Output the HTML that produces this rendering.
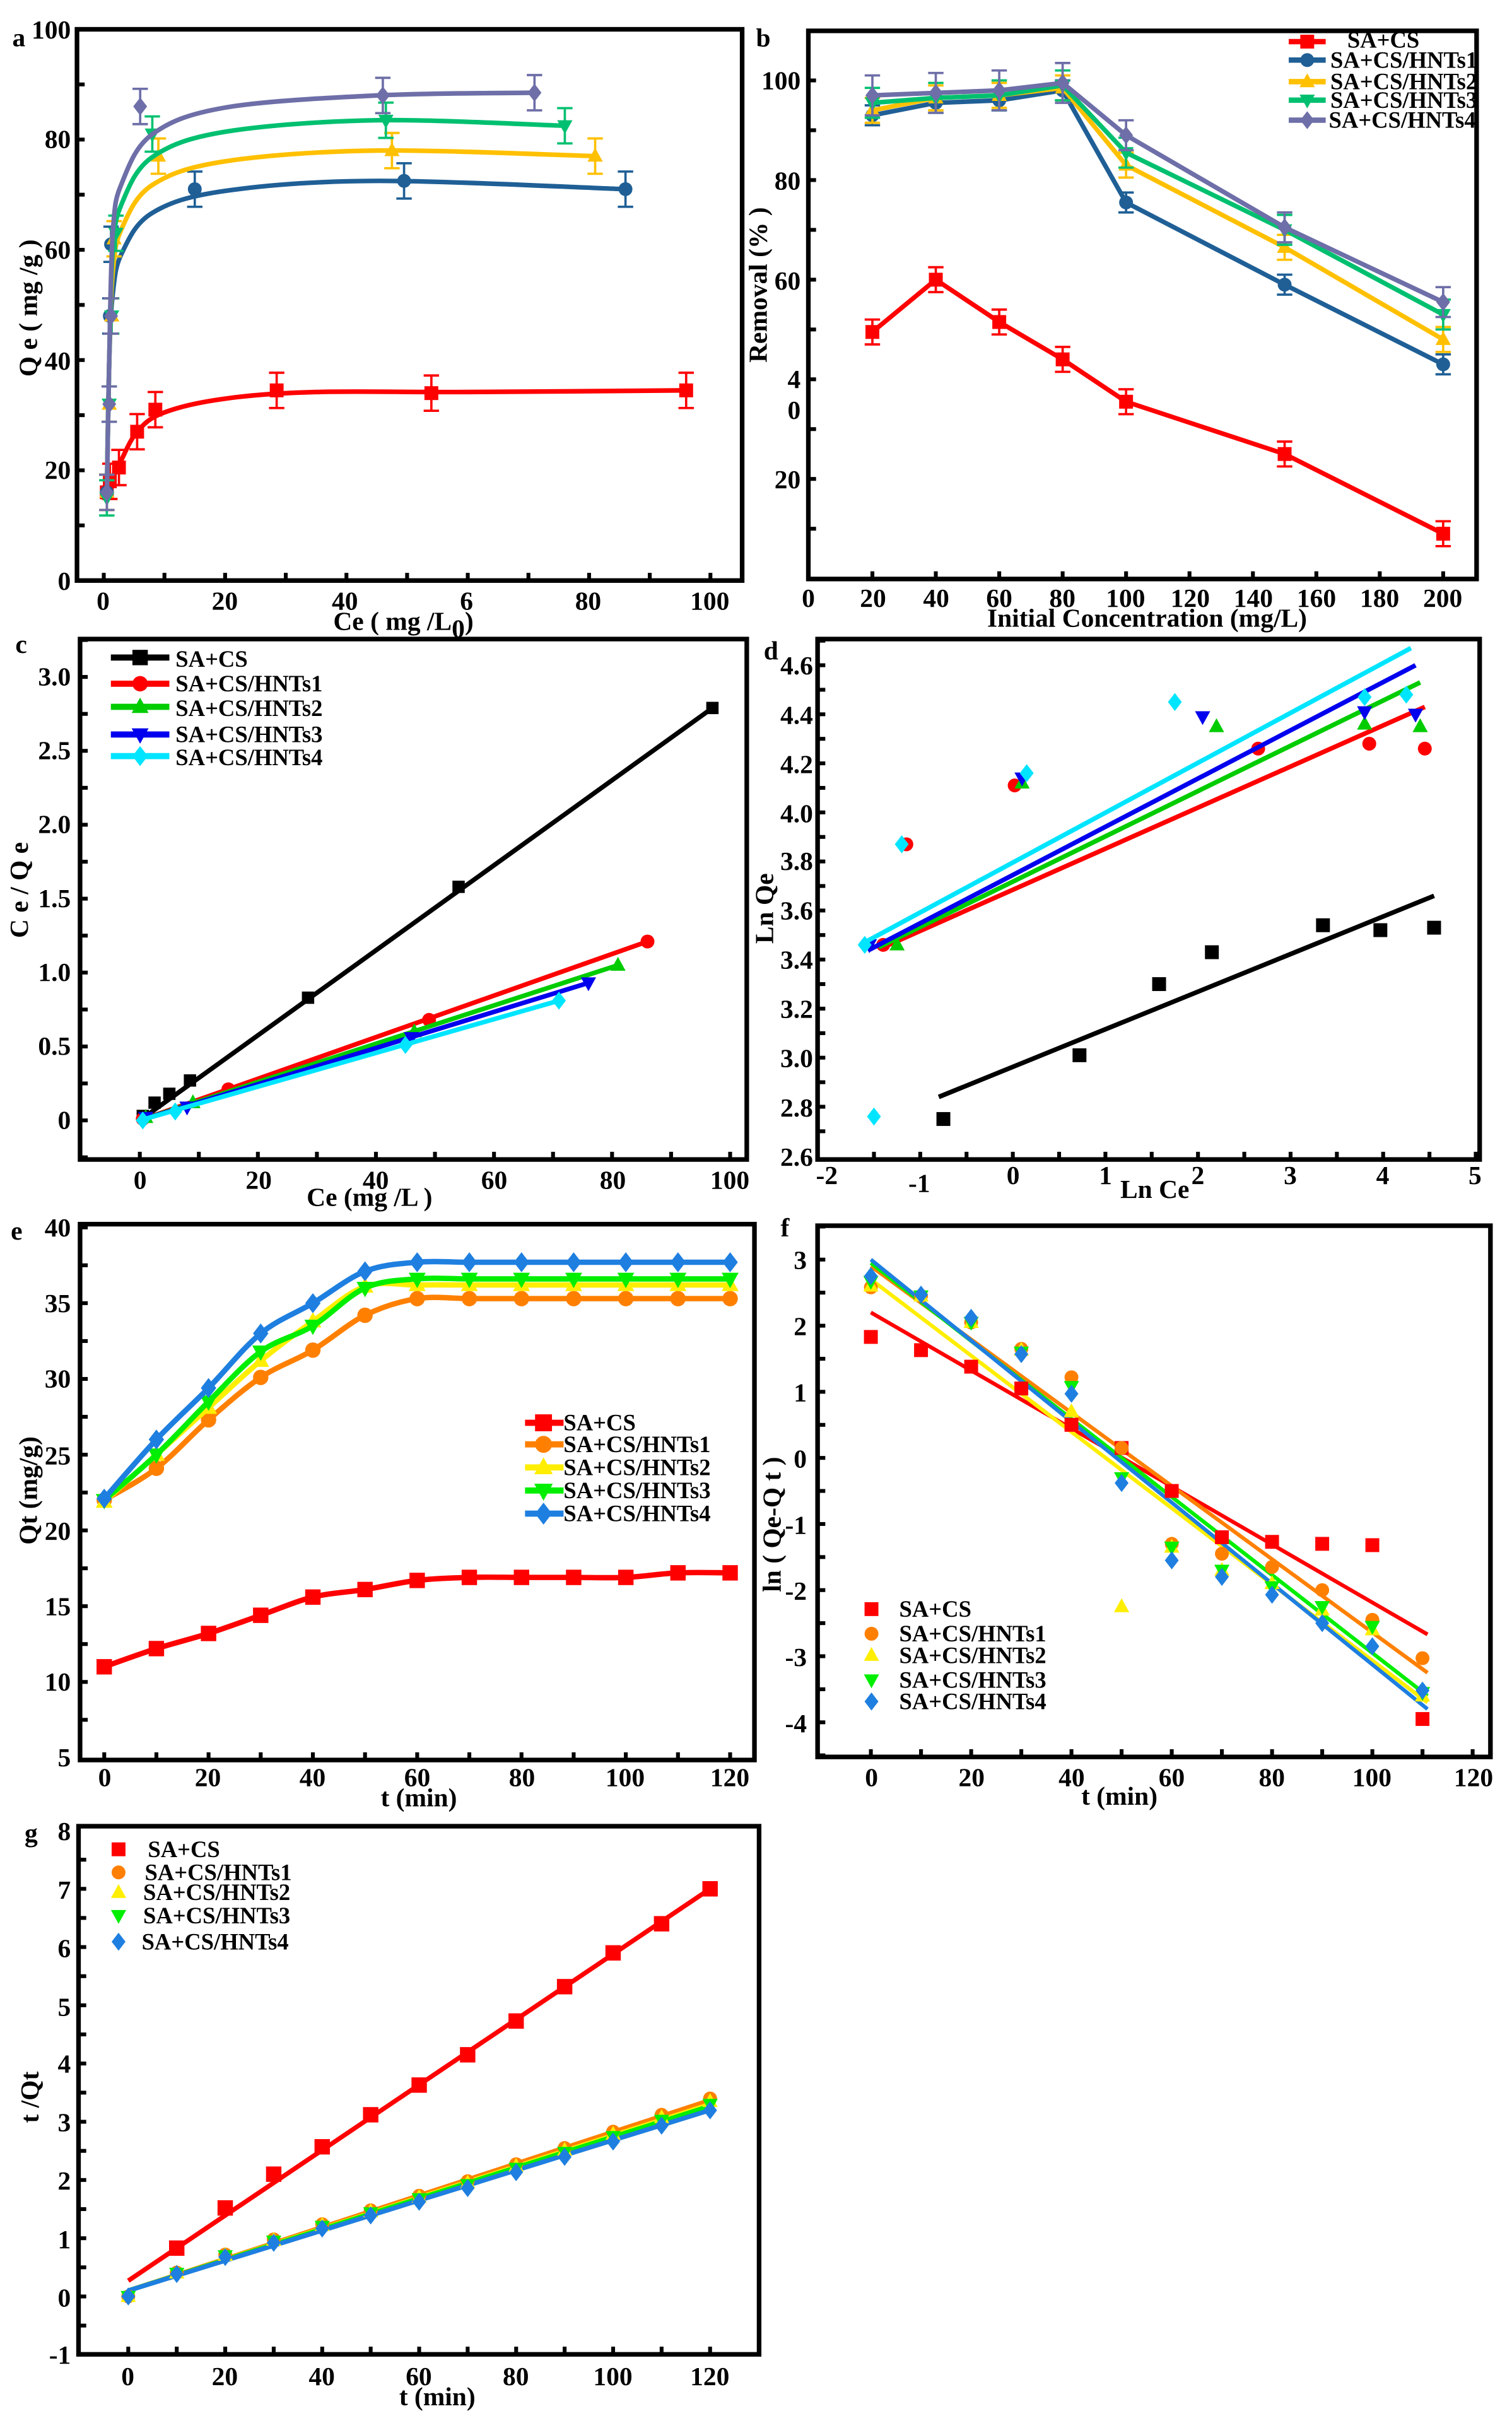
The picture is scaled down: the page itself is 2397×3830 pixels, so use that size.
<!DOCTYPE html>
<html><head><meta charset="utf-8">
<style>
html,body{margin:0;padding:0;background:#fff;}
svg{display:block;}
text{font-family:"Liberation Serif",serif;font-weight:bold;fill:#000;}
.t{font-size:17px;}
.l{font-size:15px;}
.r{text-anchor:end;}
.m{text-anchor:middle;}
</style></head>
<body>
<svg id="S" width="2397" height="3830" viewBox="0 0 982 1569" xmlns="http://www.w3.org/2000/svg">
<rect width="982" height="1569" fill="#fff"/>
<g id="G"></g>
<g fill="none" stroke="#000" stroke-width="3">
<rect x="50" y="19" width="432" height="358"/>
<rect x="525" y="20" width="434" height="356"/>
<rect x="52" y="415" width="433" height="338"/>
<rect x="531" y="415" width="430" height="338"/>
<rect x="52" y="795" width="438" height="348"/>
<rect x="531" y="796" width="437" height="345"/>
<rect x="51" y="1186" width="442" height="343"/>
</g>
<text class="t" x="8" y="30">a</text>
<text class="t r" x="46" y="25">100</text><text class="t r" x="46" y="96">80</text><text class="t r" x="46" y="168">60</text><text class="t r" x="46" y="240">40</text><text class="t r" x="46" y="311">20</text><text class="t r" x="46" y="383">0</text>
<text class="t m" x="67" y="396">0</text><text class="t m" x="146" y="396">20</text><text class="t m" x="224" y="396">40</text><text class="t m" x="303" y="396">6</text><text class="t m" x="382" y="396">80</text><text class="t m" x="461" y="396">100</text>
<text class="t m" x="262" y="409">Ce ( mg /L<tspan dy="5">0</tspan><tspan dy="-5">)</tspan></text>
<text class="t m" transform="translate(24,200) rotate(-90)">Q e ( mg /g )</text>
<text class="t" x="491" y="30">b</text>
<text class="t r" x="520" y="58">100</text><text class="t r" x="520" y="123">80</text><text class="t r" x="520" y="188">60</text><text class="t r" x="520" y="252">4</text><text class="t r" x="520" y="272">0</text><text class="t r" x="520" y="317">20</text>
<text class="t m" x="525" y="394">0</text><text class="t m" x="567" y="394">20</text><text class="t m" x="608" y="394">40</text><text class="t m" x="649" y="394">60</text><text class="t m" x="690" y="394">80</text><text class="t m" x="731" y="394">100</text><text class="t m" x="773" y="394">120</text><text class="t m" x="814" y="394">140</text><text class="t m" x="855" y="394">160</text><text class="t m" x="896" y="394">180</text><text class="t m" x="937" y="394">200</text>
<text class="t m" x="745" y="407">Initial Concentration  (mg/L)</text>
<text class="t m" transform="translate(498,185) rotate(-90)">Removal (% )</text>
<text class="l" x="875" y="31">SA+CS</text><text class="l" x="864" y="44">SA+CS/HNTs1</text><text class="l" x="864" y="58">SA+CS/HNTs2</text><text class="l" x="864" y="70">SA+CS/HNTs3</text><text class="l" x="863" y="83">SA+CS/HNTs4</text>
<text class="t" x="10" y="424">c</text>
<text class="t r" x="46" y="445">3.0</text><text class="t r" x="46" y="493">2.5</text><text class="t r" x="46" y="541">2.0</text><text class="t r" x="46" y="589">1.5</text><text class="t r" x="46" y="637">1.0</text><text class="t r" x="46" y="685">0.5</text><text class="t r" x="46" y="733">0</text>
<text class="t m" x="91" y="772">0</text><text class="t m" x="168" y="772">20</text><text class="t m" x="244" y="772">40</text><text class="t m" x="321" y="772">60</text><text class="t m" x="398" y="772">80</text><text class="t m" x="474" y="772">100</text>
<text class="t m" x="240" y="783">Ce (mg /L )</text>
<text class="t m" transform="translate(18,578) rotate(-90)">C e / Q e</text>
<text class="l" x="114" y="433">SA+CS</text><text class="l" x="114" y="449">SA+CS/HNTs1</text><text class="l" x="114" y="465">SA+CS/HNTs2</text><text class="l" x="114" y="482">SA+CS/HNTs3</text><text class="l" x="114" y="497">SA+CS/HNTs4</text>
<text class="t" x="496" y="428">d</text>
<text class="t r" x="528" y="438">4.6</text><text class="t r" x="528" y="470">4.4</text><text class="t r" x="528" y="502">4.2</text><text class="t r" x="528" y="534">4.0</text><text class="t r" x="528" y="565">3.8</text><text class="t r" x="528" y="597">3.6</text><text class="t r" x="528" y="629">3.4</text><text class="t r" x="528" y="661">3.2</text><text class="t r" x="528" y="693">3.0</text><text class="t r" x="528" y="725">2.8</text><text class="t r" x="528" y="757">2.6</text>
<text class="t m" x="537" y="769">-2</text><text class="t m" x="597" y="774">-1</text><text class="t m" x="658" y="769">0</text><text class="t m" x="718" y="769">1</text><text class="t m" x="778" y="769">2</text><text class="t m" x="838" y="769">3</text><text class="t m" x="898" y="769">4</text><text class="t m" x="958" y="769">5</text>
<text class="t m" x="750" y="778">Ln Ce</text>
<text class="t m" transform="translate(502,590) rotate(-90)">Ln Qe</text>
<text class="t" x="7" y="805">e</text>
<text class="t r" x="46" y="803">40</text><text class="t r" x="46" y="852">35</text><text class="t r" x="46" y="901">30</text><text class="t r" x="46" y="951">25</text><text class="t r" x="46" y="1000">20</text><text class="t r" x="46" y="1049">15</text><text class="t r" x="46" y="1098">10</text><text class="t r" x="46" y="1147">5</text>
<text class="t m" x="68" y="1160">0</text><text class="t m" x="135" y="1160">20</text><text class="t m" x="203" y="1160">40</text><text class="t m" x="271" y="1160">60</text><text class="t m" x="339" y="1160">80</text><text class="t m" x="406" y="1160">100</text><text class="t m" x="474" y="1160">120</text>
<text class="t m" x="272" y="1173">t (min)</text>
<text class="t m" transform="translate(24,968) rotate(-90)">Qt (mg/g)</text>
<text class="l" x="366" y="929">SA+CS</text><text class="l" x="366" y="943">SA+CS/HNTs1</text><text class="l" x="366" y="958">SA+CS/HNTs2</text><text class="l" x="366" y="973">SA+CS/HNTs3</text><text class="l" x="366" y="988">SA+CS/HNTs4</text>
<text class="t" x="507" y="803">f</text>
<text class="t r" x="524" y="824">3</text><text class="t r" x="524" y="867">2</text><text class="t r" x="524" y="910">1</text><text class="t r" x="524" y="953">0</text><text class="t r" x="524" y="996">-1</text><text class="t r" x="524" y="1039">-2</text><text class="t r" x="524" y="1082">-3</text><text class="t r" x="524" y="1125">-4</text>
<text class="t m" x="566" y="1160">0</text><text class="t m" x="631" y="1160">20</text><text class="t m" x="696" y="1160">40</text><text class="t m" x="761" y="1160">60</text><text class="t m" x="826" y="1160">80</text><text class="t m" x="891" y="1160">100</text><text class="t m" x="957" y="1160">120</text>
<text class="t m" x="727" y="1172">t (min)</text>
<text class="t m" transform="translate(507,990) rotate(-90)">ln ( Qe-Q t )</text>
<text class="l" x="584" y="1050">SA+CS</text><text class="l" x="584" y="1066">SA+CS/HNTs1</text><text class="l" x="584" y="1080">SA+CS/HNTs2</text><text class="l" x="584" y="1096">SA+CS/HNTs3</text><text class="l" x="584" y="1110">SA+CS/HNTs4</text>
<text class="t" x="16" y="1196">g</text>
<text class="t r" x="46" y="1195">8</text><text class="t r" x="46" y="1233">7</text><text class="t r" x="46" y="1271">6</text><text class="t r" x="46" y="1309">5</text><text class="t r" x="46" y="1346">4</text><text class="t r" x="46" y="1384">3</text><text class="t r" x="46" y="1422">2</text><text class="t r" x="46" y="1460">1</text><text class="t r" x="46" y="1498">0</text><text class="t r" x="46" y="1535">-1</text>
<text class="t m" x="83" y="1549">0</text><text class="t m" x="146" y="1549">20</text><text class="t m" x="209" y="1549">40</text><text class="t m" x="272" y="1549">60</text><text class="t m" x="335" y="1549">80</text><text class="t m" x="398" y="1549">100</text><text class="t m" x="461" y="1549">120</text>
<text class="t m" x="284" y="1562">t (min)</text>
<text class="t m" transform="translate(25,1362) rotate(-90)">t /Qt</text>
<text class="l" x="96" y="1206">SA+CS</text><text class="l" x="94" y="1221">SA+CS/HNTs1</text><text class="l" x="93" y="1234">SA+CS/HNTs2</text><text class="l" x="93" y="1249">SA+CS/HNTs3</text><text class="l" x="92" y="1266">SA+CS/HNTs4</text>
</svg>
<script>
var NS="http://www.w3.org/2000/svg",G=document.getElementById("G");
function el(t,a){var e=document.createElementNS(NS,t);for(var k in a)e.setAttribute(k,a[k]);G.appendChild(e);return e;}
function mk(type,x,y,c,s){s=s||4.5;
 if(type=="s")el("rect",{x:x-s,y:y-s,width:2*s,height:2*s,fill:c});
 else if(type=="o")el("circle",{cx:x,cy:y,r:s,fill:c});
 else if(type=="u")el("polygon",{points:[x,y-s*1.2,x+s*1.1,y+s*0.8,x-s*1.1,y+s*0.8].join(","),fill:c});
 else if(type=="v")el("polygon",{points:[x,y+s*1.2,x+s*1.1,y-s*0.8,x-s*1.1,y-s*0.8].join(","),fill:c});
 else if(type=="d")el("polygon",{points:[x,y-s*1.3,x+s,y,x,y+s*1.3,x-s,y].join(","),fill:c});}
function line(p,c,w){el("polyline",{points:p.map(function(q){return q.join(",")}).join(" "),fill:"none",stroke:c,"stroke-width":w||2.5,"stroke-linejoin":"round"});}
function spline(p,c,w){var d="M"+p[0][0]+","+p[0][1];for(var i=0;i<p.length-1;i++){var p0=p[i-1]||p[i],p1=p[i],p2=p[i+1],p3=p[i+2]||p2;
 d+=" C"+(p1[0]+(p2[0]-p0[0])/6)+","+(p1[1]+(p2[1]-p0[1])/6)+" "+(p2[0]-(p3[0]-p1[0])/6)+","+(p2[1]-(p3[1]-p1[1])/6)+" "+p2[0]+","+p2[1];}
 el("path",{d:d,fill:"none",stroke:c,"stroke-width":w||2.5});}
function eb(x,y1,y2,c){el("line",{x1:x,y1:y1,x2:x,y2:y2,stroke:c,"stroke-width":1.5});el("line",{x1:x-5,y1:y1,x2:x+5,y2:y1,stroke:c,"stroke-width":1.5});el("line",{x1:x-5,y1:y2,x2:x+5,y2:y2,stroke:c,"stroke-width":1.5});}
function ticks(xs,yb,ys,xl,len){xs.forEach(function(x){el("line",{x1:x,y1:yb,x2:x,y2:yb-len,stroke:"#000","stroke-width":2.5});});ys.forEach(function(y){el("line",{x1:xl,y1:y,x2:xl+len,y2:y,stroke:"#000","stroke-width":2.5});});}
function rng(a,b,s){var r=[];for(var v=a;v<=b+1e-9;v+=s)r.push(v);return r;}
(function(){var X=function(v){return 67.4+3.94*v},Y=function(v){return 377-3.58*v};
ticks(rng(0,100,10).map(X),377,rng(10,100,10).map(Y),50,5);
var S=[["#ff0000","s",[[0.5,16],[1,18],[2.5,20.5],[5.5,27],[8.5,31],[28.5,34.5],[54,34],[96,34.5]]],
["#1f5f96","o",[[0.5,16],[1,48],[1.2,61],[15,71],[49.5,72.5],[86,71]]],
["#ffc000","u",[[0.5,16],[0.9,32],[1.3,48],[1.7,62],[9,77],[47.5,78],[81,77]]],
["#00c070","v",[[0.5,15],[0.9,32],[1.3,48],[2,63],[8,81],[46.5,83.5],[76,82.5]]],
["#6e6ea8","d",[[0.5,16],[0.9,32],[1.2,48],[6,86],[46,88],[71,88.5]]]];
S.forEach(function(s){var c=s[0],d=s[2];var last=d[d.length-1][0];var qm=d[d.length-1][1];
 if(c=="#ff0000"){spline([[X(0.5),Y(17)],[X(2.5),Y(21)],[X(5.5),Y(27)],[X(10),Y(30.5)],[X(20),Y(33)],[X(35),Y(34.2)],[X(60),Y(34.2)],[X(96),Y(34.5)]],c,3);}
 else{var q1=d[d.length-2][1];var p=[[X(0.5),Y(15)],[X(0.9),Y(40)],[X(1.5),Y(q1*0.72)],[X(3),Y(q1*0.82)],[X(8),Y(q1*0.92)],[X(20),Y(q1*0.975)],[X(45),Y(q1)],[X(last),Y(qm)]];spline(p,c,3);}
 d.forEach(function(q){eb(X(q[0]),Y(q[1]+3.2),Y(q[1]-3.2),c);mk(s[1],X(q[0]),Y(q[1]),c,4.5);});});
})();
(function(){var X=function(v){return 525.4+2.0595*v},Y=function(v){return 375.7-3.235*v};
ticks(rng(20,200,20).map(X),376,rng(10,110,10).map(Y),525,5);
var xs=[20,40,60,80,100,150,200];
var S=[["#ff0000","s",[49.5,60,51.5,44,35.5,25,9],2.5],
["#1f5f96","o",[93,95.5,96,98,75.5,59,43],2],
["#ffc000","u",[94,96.5,97,98.5,83,66.5,48],2.5],
["#00c070","v",[95.5,96.5,97,99,85.5,70,53],3],
["#6e6ea8","d",[97,97.5,98,99.5,89,70.5,55.5],3]];
S.forEach(function(s){var p=xs.map(function(x,i){return [X(x),Y(s[2][i])]});line(p,s[0],3);
 p.forEach(function(q,i){var e=(s[0]=="#6e6ea8"&&i<4)?4:s[3];eb(q[0],q[1]-e*3.235,q[1]+e*3.235,s[0]);mk(s[1],q[0],q[1],s[0],4.5);});});
var ly=[27,39,53,65,78];S.forEach(function(s,i){line([[837,ly[i]],[861,ly[i]]],s[0],3.5);mk(s[1],849,ly[i],s[0],4.5);});
})();
(function(){var X=function(v){return 90.8+3.834*v},Y=function(v){return 727.6-96*v};
ticks(rng(0,100,10).map(X),753,rng(-0.25,3.25,0.25).map(Y),52,5);
line([[X(0),Y(0)],[X(97),Y(2.79)]],"#000",3);
[[0.5,0.03],[2.5,0.12],[5,0.18],[8.5,0.27],[28.5,0.83],[54,1.58],[97,2.79]].forEach(function(q){mk("s",X(q[0]),Y(q[1]),"#000",4);});
var S=[["#ff0000","o",86,1.21,[[0.5,0.01],[15,0.21],[49,0.68]]],["#00cc00","u",81,1.05,[[1,0.02],[9,0.12],[46.5,0.6]]],["#0000ee","v",76,0.93,[[1,0.02],[8,0.09],[46,0.56]]],["#00e5ff","d",71,0.81,[[0.5,0],[6,0.06],[45,0.51]]]];
S.forEach(function(s){line([[X(0),Y(0)],[X(s[2]),Y(s[3])]],s[0],3);s[4].concat([[s[2],s[3]]]).forEach(function(q){mk(s[1],X(q[0]),Y(q[1]),s[0],4.5);});});
var L=[["#000","s"],["#ff0000","o"],["#00cc00","u"],["#0000ee","v"],["#00e5ff","d"]],ly=[427,444,459,477,491];
L.forEach(function(s,i){line([[72,ly[i]],[110,ly[i]]],s[0],4);mk(s[1],91,ly[i],s[0],5);});
})();
(function(){var X=function(v){return 657.8+60.13*v},Y=function(v){return 750.6-159.3*(v-2.6)};
ticks(rng(-1.5,5,0.5).map(X),753,rng(2.7,4.7,0.1).map(Y),531,5);
[[-0.75,2.75],[0.72,3.01],[1.58,3.30],[2.15,3.43],[3.35,3.54],[3.97,3.52],[4.55,3.53]].forEach(function(q){mk("s",X(q[0]),Y(q[1]),"#000",4.5);});
line([[X(-0.8),Y(2.84)],[X(4.55),Y(3.66)]],"#000",3);
var S=[["#ff0000","o",[[-1.4,3.46],[-1.15,3.87],[0.02,4.11],[2.65,4.26],[3.85,4.28],[4.45,4.26]],[-1.4,3.45,4.45,4.43]],
["#00cc00","u",[[-1.25,3.46],[0.1,4.12],[2.2,4.35],[3.8,4.36],[4.4,4.35]],[-1.45,3.45,4.4,4.53]],
["#0000ee","v",[[-1.55,3.46],[0.1,4.14],[2.05,4.39],[3.8,4.41],[4.35,4.40]],[-1.55,3.44,4.35,4.60]],
["#00e5ff","d",[[-1.6,3.46],[-1.5,2.76],[-1.2,3.87],[0.15,4.16],[1.75,4.45],[3.8,4.47],[4.25,4.48]],[-1.65,3.46,4.3,4.67]]];
S.forEach(function(s){var l=s[3];line([[X(l[0]),Y(l[1])],[X(l[2]),Y(l[3])]],s[0],3);s[2].forEach(function(q){mk(s[1],X(q[0]),Y(q[1]),s[0],4.5);});});
})();
(function(){var X=function(v){return 67.7+3.3875*v},Y=function(v){return 1141.5-9.84*(v-5)};
ticks(rng(0,120,10).map(X),1143,rng(7.5,40,2.5).map(Y),52,5);
var t=rng(0,120,10);
var S=[["#ff0000","s",[11,12.2,13.2,14.4,15.6,16.1,16.7,16.9,16.9,16.9,16.9,17.2,17.2]],
["#ff8000","o",[22,24.1,27.3,30.1,31.9,34.2,35.3,35.3,35.3,35.3,35.3,35.3,35.3]],
["#ffee00","u",[21.9,25,28.1,31.2,33.8,36.1,36.2,36.2,36.2,36.2,36.2,36.2,36.2]],
["#00ee00","v",[22,25,28.5,31.8,33.5,36,36.6,36.6,36.6,36.6,36.6,36.6,36.6]],
["#1e7fe0","d",[22.1,26,29.4,33,35,37.1,37.7,37.7,37.7,37.7,37.7,37.7,37.7]]];
S.forEach(function(s){var p=t.map(function(x,i){return [X(x),Y(s[2][i])]});spline(p,s[0],3.5);p.forEach(function(q){mk(s[1],q[0],q[1],s[0],5);});});
var ly=[924,938,953,968,983];S.forEach(function(s,i){line([[341,ly[i]],[366,ly[i]]],s[0],4);mk(s[1],353,ly[i],s[0],5.5);});
})();
(function(){var X=function(v){return 565.6+3.257*v},Y=function(v){return 946.8-42.93*v};
ticks(rng(0,120,10).map(X),1141,rng(-4.5,3.5,0.5).map(Y),531,5);
var t=[0,10,20,30,40,50,60,70,80,90,100,110];
var S=[["#ff0000","s",[1.83,1.63,1.38,1.05,0.5,0.15,-0.5,-1.2,-1.27,-1.3,-1.32,-3.95],[2.2,-2.67]],
["#ff8000","o",[2.58,2.45,2.05,1.65,1.22,0.15,-1.3,-1.45,-1.65,-2.0,-2.45,-3.03],[2.9,-3.25]],
["#ffee00","u",[2.6,2.45,2.05,1.63,0.7,-2.25,-1.35,-1.7,-1.9,-2.3,-2.6,-3.6],[2.7,-3.7]],
["#00ee00","v",[2.67,2.45,2.05,1.6,1.08,-0.3,-1.35,-1.7,-1.95,-2.25,-2.55,-3.55],[2.95,-3.6]],
["#1e7fe0","d",[2.75,2.47,2.12,1.57,0.97,-0.38,-1.55,-1.8,-2.07,-2.5,-2.85,-3.52],[3.0,-3.8]]];
S.forEach(function(s){line([[X(0),Y(s[3][0])],[X(111),Y(s[3][1])]],s[0],2.5);});
S.forEach(function(s){t.forEach(function(x,i){mk(s[1],X(x),Y(s[2][i]),s[0],4.5);});});
var ly=[1045,1061,1075,1091,1105];S.forEach(function(s,i){mk(s[1],566,ly[i],s[0],4.5);});
})();
(function(){var X=function(v){return 83.3+3.149*v},Y=function(v){return 1491.4-37.82*v};
ticks(rng(0,120,10).map(X),1529,rng(-0.5,7.5,0.5).map(Y),51,5);
var t=rng(0,120,10);
line([[X(0),Y(0.27)],[X(120),Y(7.0)]],"#ff0000",3);
var o=[0,0.41,0.72,0.98,1.24,1.48,1.73,1.98,2.27,2.55,2.83,3.12,3.4];
var S=[["#ff8000","o",1.0,3.37],["#ffee00","u",0.985,3.3],["#00ee00","v",0.97,3.27],["#1e7fe0","d",0.94,3.2]];
S.forEach(function(s){line([[X(0),Y(0.1)],[X(120),Y(s[3])]],s[0],3);});
S.forEach(function(s){t.forEach(function(x,i){mk(s[1],X(x),Y(o[i]*s[2]),s[0],4.5);});});
var r=[null,0.83,1.52,2.1,2.57,3.12,3.63,4.15,4.73,5.32,5.9,6.4,7.0];
t.forEach(function(x,i){if(r[i]!==null)mk("s",X(x),Y(r[i]),"#ff0000",5);});
var L=[["#ff0000","s"],["#ff8000","o"],["#ffee00","u"],["#00ee00","v"],["#1e7fe0","d"]],ly=[1201,1216,1229,1244,1261];
L.forEach(function(s,i){mk(s[1],77,ly[i],s[0],4.5);});
})();
</script>
</body></html>
